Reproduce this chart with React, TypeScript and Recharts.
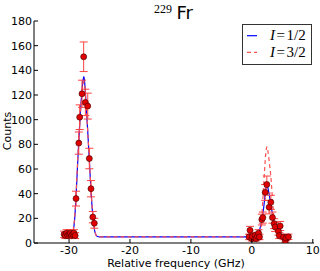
import React from 'react';
import {
  ComposedChart, Line, Scatter, XAxis, YAxis, ErrorBar, Legend, Customized,
} from 'recharts';

// ---- measured data (Relative frequency in GHz, counts) ----
const ptX = [
  -30.8, -30.6, -30.4, -30.2, -30.0, -29.8, -29.6, -29.4, -29.2, -29.0,
  -28.85, -28.4, -28.25, -27.87, -27.6, -27.32, -26.93, -26.67, -26.4, -26.1, -25.85,
  -0.46, -0.3, 0.0, 0.1, 0.54, 0.7, 0.92, 1.1, 1.25,
  1.64, 1.8, 2.18, 2.46, 2.84, 3.12, 3.38, 3.66, 3.82, 4.37, 4.5, 4.65, 5.2, 5.5, 5.6, 6.0,
];
const ptY = [
  7, 6, 8, 6, 7, 8, 6, 7, 8, 6,
  36, 81, 102, 121, 151, 114, 111, 68.5, 44, 21, 16,
  4.9, 10.3, 3.5, 5.4, 6.2, 3.5, 5.4, 8, 4.9,
  19, 20.6, 41, 47.4, 29, 33, 20.6, 15.7, 13, 9.5, 6, 13.8, 4.9, 2, 4, 5,
];
const ptErr = [
  2.6, 2.4, 2.8, 2.4, 2.6, 2.8, 2.4, 2.6, 2.8, 2.4,
  6, 9, 10, 11, 12, 10.7, 10.5, 8.3, 6.6, 4.6, 4,
  2.2, 3.2, 1.9, 2.3, 2.5, 1.9, 2.3, 2.8, 2.2,
  4.4, 4.5, 6.4, 6.9, 5.4, 5.7, 4.5, 4, 3.6, 3.1, 2.4, 3.7, 2.2, 1.4, 2, 2.2,
];

const halfX = [
  -30.9, -29.8, -29.5, -29.3, -29.1, -28.9, -28.65, -28.4, -28.15, -27.9, -27.7, -27.55,
  -27.4, -27.2, -26.95, -26.7, -26.45, -26.2, -25.95, -25.7, -25.4, -25.0,
  0.0, 0.8, 1.0, 1.3, 1.64, 1.95, 2.2, 2.46, 2.7, 3.0, 3.28, 3.55, 3.82, 4.1, 4.37, 4.8, 6.0,
];
const halfY = [
  5, 5, 6, 10, 18, 33, 58, 83, 105, 122, 132, 135,
  128, 113, 92, 70, 47, 28, 15, 8, 5.5, 5,
  5, 5.8, 7, 11, 18.5, 29, 40, 48, 43, 35, 26.5, 19, 13, 9.5, 7.5, 5.8, 5,
];

const threeHalfX = [
  -30.9, -29.8, -29.5, -29.3, -29.1, -28.9, -28.65, -28.4, -28.15, -27.9, -27.7, -27.55,
  -27.4, -27.2, -26.95, -26.7, -26.45, -26.2, -25.95, -25.7, -25.4, -25.0,
  0.0, 1.0, 1.3, 1.5, 1.8, 2.1, 2.3, 2.46, 2.65, 2.9, 3.12, 3.38, 3.7, 4.0, 4.4, 5.0, 6.0,
];
const threeHalfY = [
  5, 5, 6.5, 11, 20, 35, 60, 84, 104, 120, 129, 131,
  126, 112, 92, 70, 48, 29, 16, 8.5, 5.5, 5,
  5, 6, 8, 12, 35, 60, 73, 78, 74, 64, 54, 36, 17, 10, 6.5, 5, 5,
];

const xTicks = [-30, -20, -10, 0, 10];
const yTicks = [0, 20, 40, 60, 80, 100, 120, 140, 160, 180];

const points = ptX.map((x, i) => ({ x, y: ptY[i], err: ptErr[i] }));
const halfData = halfX.map((x, i) => ({ x, y: halfY[i] }));
const threeHalfData = threeHalfX.map((x, i) => ({ x, y: threeHalfY[i] }));

const SANS = 'DejaVu Sans';
const SERIF = 'Liberation Serif';

const BottomTick = (props: any) => {
  const { x, y, payload } = props;
  return (
    <g>
      <line x1={x} x2={x} y1={y} y2={y - 4} stroke="#000" strokeWidth={1} />
      <text x={x} y={y + 11.3} textAnchor="middle" fontSize={11} fontFamily={SANS} fill="#000">
        {payload.value}
      </text>
    </g>
  );
};
const TopTick = (props: any) => {
  const { x, y } = props;
  return <line x1={x} x2={x} y1={y} y2={y + 4} stroke="#000" strokeWidth={1} />;
};
const LeftTick = (props: any) => {
  const { x, y, payload } = props;
  return (
    <g>
      <line x1={x} x2={x + 4} y1={y} y2={y} stroke="#000" strokeWidth={1} />
      <text x={x - 2} y={y} dy="0.36em" textAnchor="end" fontSize={11} fontFamily={SANS} fill="#000">
        {payload.value}
      </text>
    </g>
  );
};
const RightTick = (props: any) => {
  const { x, y } = props;
  return <line x1={x} x2={x - 4} y1={y} y2={y} stroke="#000" strokeWidth={1} />;
};

const Texts = () => (
  <g>
    <text x={154} y={13} fontSize={12} fontFamily={SERIF} fill="#000">229</text>
    <text x={176.5} y={18.5} fontSize={18} fontFamily={SANS} fill="#000">Fr</text>
    <text x={176} y={267} textAnchor="middle" fontSize={11} fontFamily={SANS} fill="#000">
      Relative frequency (GHz)
    </text>
    <text
      x={10.5}
      y={131}
      textAnchor="middle"
      fontSize={11}
      fontFamily={SANS}
      fill="#000"
      transform="rotate(-90 10.5 131)"
    >
      Counts
    </text>
  </g>
);

const LegendBox = () => (
  <div
    style={{
      position: 'relative',
      width: 70,
      height: 41,
      boxSizing: 'border-box',
      border: '1px solid #333',
      background: '#fff',
      fontFamily: SERIF,
      fontSize: 15,
      color: '#000',
    }}
  >
    <svg width={70} height={41} style={{ position: 'absolute', left: -1, top: -1 }}>
      <line x1={5} x2={15} y1={11.7} y2={11.7} stroke="#0000ff" strokeWidth={1.2} />
      <line x1={5} x2={15} y1={28.3} y2={28.3} stroke="#ff5050" strokeWidth={1.2} strokeDasharray="4 3" />
    </svg>
    <div style={{ position: 'absolute', left: 27, top: 2, whiteSpace: 'nowrap', lineHeight: '17px' }}>
      <span style={{ fontStyle: 'italic' }}>I</span>
      <span style={{ margin: '0 1.5px' }}>=</span>1/2
    </div>
    <div style={{ position: 'absolute', left: 27, top: 19, whiteSpace: 'nowrap', lineHeight: '17px' }}>
      <span style={{ fontStyle: 'italic' }}>I</span>
      <span style={{ margin: '0 1.5px' }}>=</span>3/2
    </div>
  </div>
);

export default function App() {
  return (
    <div style={{ position: 'absolute', left: 0, top: 0, width: 320, height: 271, background: '#fff' }}>
      <ComposedChart
        width={320}
        height={271}
        margin={{ top: 21, right: 6, bottom: 0, left: 0 }}
      >
        <XAxis
          xAxisId="b"
          dataKey="x"
          type="number"
          domain={[-35.75, 10.2]}
          allowDataOverflow
          ticks={xTicks}
          height={28}
          tickSize={0}
          tickMargin={0}
          tickLine={false}
          axisLine={{ stroke: '#000' }}
          tick={<BottomTick />}
          interval={0}
        />
        <XAxis
          xAxisId="t"
          orientation="top"
          dataKey="x"
          type="number"
          domain={[-35.75, 10.2]}
          allowDataOverflow
          ticks={xTicks}
          height={0}
          tickSize={0}
          tickMargin={0}
          tickLine={false}
          axisLine={{ stroke: '#000' }}
          tick={<TopTick />}
          interval={0}
        />
        <YAxis
          yAxisId="l"
          type="number"
          domain={[0, 180]}
          allowDataOverflow
          ticks={yTicks}
          width={34}
          tickSize={0}
          tickMargin={0}
          tickLine={false}
          axisLine={{ stroke: '#000' }}
          tick={<LeftTick />}
          interval={0}
        />
        <YAxis
          yAxisId="r"
          orientation="right"
          type="number"
          domain={[0, 180]}
          allowDataOverflow
          ticks={yTicks}
          width={0}
          tickSize={0}
          tickMargin={0}
          tickLine={false}
          axisLine={{ stroke: '#000' }}
          tick={<RightTick />}
          interval={0}
        />
        <Line
          xAxisId="b"
          yAxisId="l"
          data={halfData}
          dataKey="y"
          type="monotone"
          stroke="#0000ff"
          strokeWidth={1.2}
          dot={false}
          activeDot={false}
          isAnimationActive={false}
        />
        <Line
          xAxisId="b"
          yAxisId="l"
          data={threeHalfData}
          dataKey="y"
          type="monotone"
          stroke="#ff5050"
          strokeWidth={1.2}
          strokeDasharray="4 3"
          dot={false}
          activeDot={false}
          isAnimationActive={false}
        />
        <Scatter
          xAxisId="b"
          yAxisId="l"
          data={points}
          dataKey="y"
          isAnimationActive={false}
          shape={(p: any) => (
            <circle cx={p.cx} cy={p.cy} r={3} fill="#e00000" stroke="#3a0000" strokeWidth={0.6} />
          )}
        >
          <ErrorBar dataKey="err" direction="y" width={4} stroke="#ff4040" strokeWidth={1} isAnimationActive={false} />
        </Scatter>
        <Legend
          layout="horizontal"
          verticalAlign="middle"
          align="center"
          content={() => <LegendBox />}
          wrapperStyle={{ left: 242, top: 24, width: 70, height: 41 }}
        />
        <Customized component={Texts} />
      </ComposedChart>
    </div>
  );
}
